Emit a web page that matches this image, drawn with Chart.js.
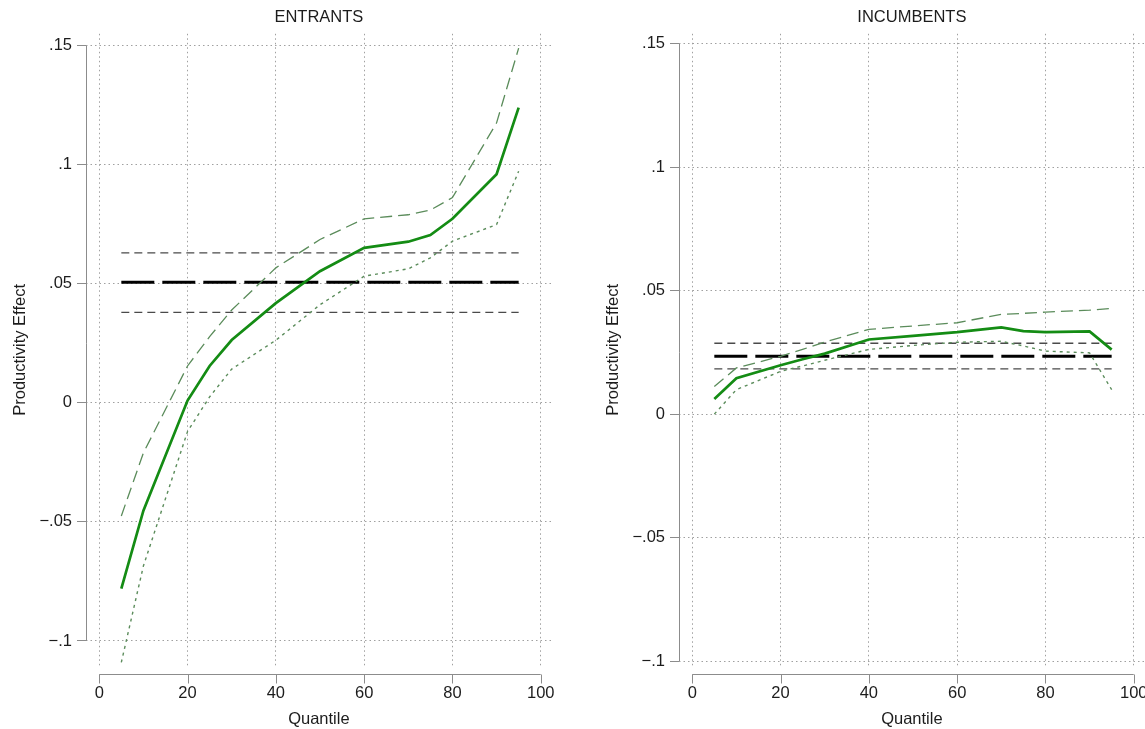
<!DOCTYPE html>
<html>
<head>
<meta charset="utf-8">
<script src="https://cdn.jsdelivr.net/npm/chart.js@4/dist/chart.umd.min.js"></script>
<style>
  html, body { margin: 0; padding: 0; background: #fff; overflow: hidden; }
  #wrap { position: relative; width: 1145px; height: 729px; overflow: hidden; }
  canvas { position: absolute; top: 0; }
  #entrants { left: 0; }
  #incumbents { left: 593px; }
</style>
</head>
<body>
<div id="wrap">
  <canvas id="entrants" width="573" height="729"></canvas>
  <canvas id="incumbents" width="573" height="729"></canvas>
</div>
<script>
// quantiles of the productivity distribution
const quantiles = [5, 10, 20, 25, 30, 40, 50, 60, 70, 75, 80, 90, 95];

// entrants: quantile estimates and bounds
const entrantsEst   = [-0.078, -0.0453, 0.001, 0.0155, 0.0264, 0.0419, 0.0553, 0.0651, 0.0677, 0.0705, 0.0773, 0.096, 0.124];
const entrantsUpper = [-0.0475, -0.021, 0.0155, 0.0278, 0.039, 0.0567, 0.0686, 0.0773, 0.079, 0.081, 0.0862, 0.1176, 0.149];
const entrantsLower = [-0.109, -0.0685, -0.012, 0.0025, 0.0142, 0.0263, 0.0412, 0.0532, 0.0563, 0.0609, 0.0679, 0.0749, 0.0973];
// entrants: mean effect and its bounds
const entrantsMean = [0.038, 0.0507, 0.063];

// incumbents
const incumbentsEst   = [0.0061, 0.0145, 0.0198, 0.0222, 0.0245, 0.0302, 0.0317, 0.0332, 0.0351, 0.0336, 0.0332, 0.0335, 0.0261];
const incumbentsUpper = [0.0112, 0.0187, 0.0234, 0.0262, 0.0292, 0.0343, 0.0357, 0.037, 0.0404, 0.0408, 0.0413, 0.0421, 0.0428];
const incumbentsLower = [0.0, 0.0099, 0.0173, 0.0195, 0.0218, 0.0262, 0.0278, 0.0291, 0.0295, 0.0276, 0.0255, 0.0248, 0.0099];
const incumbentsMean = [0.0183, 0.0234, 0.0287];

// axes
const xTicks = [0, 20, 40, 60, 80, 100];
const yTicks = [-0.1, -0.05, 0, 0.05, 0.1, 0.15];
const yTickLabels = ['\u2212.1', '\u2212.05', '0', '.05', '.1', '.15'];

const FONT = '"Liberation Sans", Arial, Helvetica, sans-serif';
const TEXT = '#1c1c1c';
const AXIS = '#8c8c8c';
const GRID = '#a0a0a0';
const GREEN = '#148c14';
const CI_GREEN = '#5b8c5b';

const pts = (ys) => quantiles.map((q, i) => ({ x: q, y: ys[i] }));
const flat = (v) => [{ x: quantiles[0], y: v }, { x: quantiles[quantiles.length - 1], y: v }];

// stata-like axis lines: y from first to last tick, x offset below the plot
const axisLines = {
    id: 'axisLines',
    afterDraw(chart) {
        const { ctx, chartArea, scales: { x, y } } = chart;
        ctx.save();
        ctx.strokeStyle = AXIS;
        ctx.lineWidth = 1;
        ctx.setLineDash([]);
        ctx.beginPath();
        const ax = Math.round(chartArea.left) + 0.5;
        ctx.moveTo(ax, y.getPixelForValue(yTicks[yTicks.length - 1]));
        ctx.lineTo(ax, y.getPixelForValue(yTicks[0]));
        const by = Math.round(chartArea.bottom) + 8.5;
        ctx.moveTo(x.getPixelForValue(xTicks[0]), by);
        ctx.lineTo(x.getPixelForValue(xTicks[xTicks.length - 1]), by);
        xTicks.forEach(v => {
            const px = Math.round(x.getPixelForValue(v)) + 0.5;
            ctx.moveTo(px, by);
            ctx.lineTo(px, by + 9);
        });
        ctx.stroke();
        ctx.restore();
    }
};

function makePanel(id, title, est, upper, lower, mean, yMin, yMax) {
    new Chart(document.getElementById(id), {
        type: 'line',
        data: {
            datasets: [
                { data: pts(est), borderColor: GREEN, borderWidth: 2.7 },
                { data: pts(upper), borderColor: CI_GREEN, borderWidth: 1.3, borderDash: [12, 6] },
                { data: pts(lower), borderColor: CI_GREEN, borderWidth: 1.4, borderDash: [3, 4] },
                { data: flat(mean[1]), borderColor: '#000', borderWidth: 3, borderDash: [33, 8] },
                { data: flat(mean[2]), borderColor: '#4a4a4a', borderWidth: 1.3, borderDash: [8, 5] },
                { data: flat(mean[0]), borderColor: '#4a4a4a', borderWidth: 1.3, borderDash: [8, 5] }
            ]
        },
        options: {
            responsive: false,
            animation: false,
            devicePixelRatio: 1,
            layout: { padding: { right: 21 } },
            elements: { point: { radius: 0 }, line: { tension: 0, borderCapStyle: 'butt' } },
            plugins: {
                legend: { display: false },
                tooltip: { enabled: false },
                title: {
                    display: true,
                    text: title,
                    fullSize: false,
                    color: TEXT,
                    font: { family: FONT, size: 16.5, weight: 'normal' },
                    padding: { top: 8, bottom: 6 }
                }
            },
            scales: {
                x: {
                    type: 'linear',
                    min: -3,
                    max: 102.5,
                    afterBuildTicks: s => { s.ticks = xTicks.map(v => ({ value: v })); },
                    afterFit: s => { s.height = 63; },
                    grid: { color: GRID, lineWidth: 1, drawTicks: false },
                    border: { display: false, dash: [1.5, 3] },
                    ticks: { color: TEXT, padding: 18, maxRotation: 0, font: { family: FONT, size: 16.5 } },
                    title: { display: true, text: 'Quantile', color: TEXT, padding: { top: 0, bottom: 0 }, font: { family: FONT, size: 16.5 } }
                },
                y: {
                    min: yMin,
                    max: yMax,
                    afterBuildTicks: s => { s.ticks = yTicks.map(v => ({ value: v })); },
                    afterFit: s => { s.width = 86; },
                    grid: { color: GRID, lineWidth: 1, tickLength: 9, tickColor: AXIS, tickBorderDash: [] },
                    border: { display: false, dash: [1.5, 3] },
                    ticks: {
                        color: TEXT,
                        padding: 5,
                        font: { family: FONT, size: 16.5 },
                        callback: (v, i) => yTickLabels[yTicks.indexOf(v)] ?? yTickLabels[i]
                    },
                    title: { display: true, text: 'Productivity Effect', color: TEXT, padding: { top: 11, bottom: 0 }, font: { family: FONT, size: 16.5 } }
                }
            }
        },
        plugins: [axisLines]
    });
}

makePanel('entrants', 'ENTRANTS', entrantsEst, entrantsUpper, entrantsLower, entrantsMean, -0.1105, 0.155);
makePanel('incumbents', 'INCUMBENTS', incumbentsEst, incumbentsUpper, incumbentsLower, incumbentsMean, -0.102, 0.154);
</script>
</body>
</html>
